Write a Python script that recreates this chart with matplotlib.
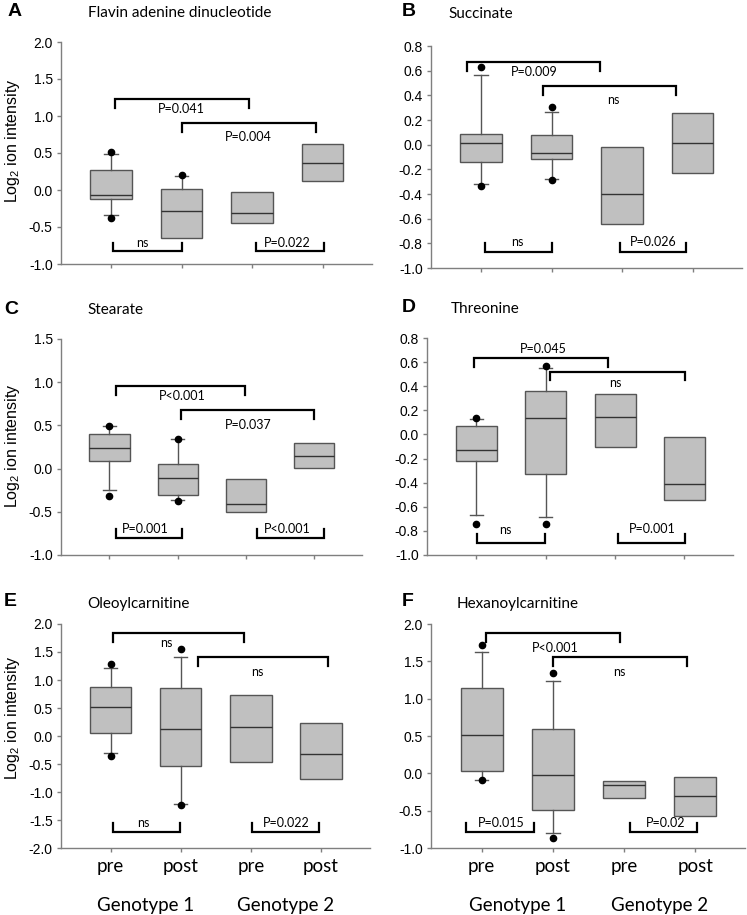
import numpy as np
import matplotlib
matplotlib.use("Agg")
import matplotlib.pyplot as plt
import matplotlib.transforms as mtransforms

plt.rcParams['font.family'] = ['Liberation Sans', 'DejaVu Sans']
plt.rcParams['mathtext.fontset'] = 'custom'
plt.rcParams['mathtext.rm'] = 'Liberation Sans'
plt.rcParams['mathtext.it'] = 'Liberation Sans'
LABEL_FONT = ['Lato', 'DejaVu Sans']

groups = ['pre', 'post', 'pre', 'post']
genotypes = ['Genotype 1', 'Genotype 2']
positions = [1, 2, 3, 4]

# ---- panel data ----
# A: Flavin adenine dinucleotide
a_q1 = [-0.12, -0.65, -0.45, 0.12]
a_med = [-0.07, -0.28, -0.31, 0.36]
a_q3 = [0.27, 0.02, -0.03, 0.62]
a_lo = [-0.34, None, None, None]
a_hi = [0.49, 0.19, None, None]
a_dots = [[0.51, -0.38], [0.20], [], []]
a_top = [(1.05, 2.95, 1.23, 'P=0.041', 2.0, 1.09), (2.0, 3.9, 0.90, 'P=0.004', 2.95, 0.71)]
a_bot = [(1.03, 2.0, -0.83, 'ns', 1.45, -0.71), (3.06, 4.02, -0.83, 'P=0.022', 3.5, -0.71)]

# B: Succinate
b_q1 = [-0.14, -0.12, -0.64, -0.23]
b_med = [0.015, -0.07, -0.40, 0.01]
b_q3 = [0.09, 0.08, -0.02, 0.26]
b_lo = [-0.32, -0.28, None, None]
b_hi = [0.565, 0.265, None, None]
b_dots = [[0.63, -0.335], [0.305, -0.287], [], []]
b_top = [(0.8, 2.68, 0.673, 'P=0.009', 1.76, 0.589), (1.88, 3.77, 0.473, 'ns', 2.88, 0.36)]
b_bot = [(1.06, 2.0, -0.87, 'ns', 1.52, -0.79), (2.97, 3.91, -0.87, 'P=0.026', 3.44, -0.79)]

# C: Stearate
c_q1 = [0.084, -0.31, -0.50, 0.007]
c_med = [0.242, -0.113, -0.406, 0.146]
c_q3 = [0.40, 0.049, -0.117, 0.30]
c_lo = [-0.252, -0.36, None, None]
c_hi = [0.489, 0.339, None, None]
c_dots = [[0.497, -0.313], [0.343, -0.371], [], []]
c_top = [(1.09, 2.98, 0.956, 'P<0.001', 2.07, 0.836), (2.05, 4.0, 0.678, 'P=0.037', 3.04, 0.505)]
c_bot = [(1.09, 2.06, -0.803, 'P=0.001', 1.53, -0.70), (3.16, 4.14, -0.803, 'P<0.001', 3.6, -0.70)]

# D: Threonine
d_q1 = [-0.224, -0.324, -0.103, -0.547]
d_med = [-0.128, 0.137, 0.143, -0.409]
d_q3 = [0.068, 0.364, 0.336, -0.020]
d_lo = [-0.666, -0.682, None, None]
d_hi = [0.129, 0.549, None, None]
d_dots = [[0.137, -0.74], [0.571, -0.74], [], []]
d_top = [(0.97, 2.9, 0.634, 'P=0.045', 1.96, 0.706), (2.06, 4.01, 0.521, 'ns', 3.01, 0.43)]
d_bot = [(1.01, 1.99, -0.898, 'ns', 1.42, -0.79), (3.04, 4.01, -0.898, 'P=0.001', 3.54, -0.787)]

# E: Oleoylcarnitine
e_q1 = [0.045, -0.532, -0.472, -0.764]
e_med = [0.526, 0.122, 0.169, -0.330]
e_q3 = [0.883, 0.859, 0.740, 0.235]
e_lo = [-0.312, -1.221, None, None]
e_hi = [1.221, 1.418, None, None]
e_dots = [[1.281, -0.354], [1.56, -1.233], [], []]
e_top = [(1.03, 2.9, 1.845, 'ns', 1.8, 1.655), (2.25, 4.1, 1.418, 'ns', 3.09, 1.138)]
e_bot = [(1.03, 1.99, -1.72, 'ns', 1.47, -1.56), (3.02, 3.97, -1.72, 'P=0.022', 3.5, -1.56)]

# F: Hexanoylcarnitine
f_q1 = [0.034, -0.487, -0.331, -0.576]
f_med = [0.52, -0.024, -0.162, -0.309]
f_q3 = [1.14, 0.592, -0.108, -0.046]
f_lo = [-0.095, -0.80, None, None]
f_hi = [1.621, 1.243, None, None]
f_dots = [[1.72, -0.09], [1.345, -0.862], [], []]
f_top = [(1.06, 2.95, 1.885, 'P<0.001', 2.03, 1.684), (2.0, 3.88, 1.559, 'ns', 2.93, 1.354)]
f_bot = [(0.78, 1.73, -0.79, 'P=0.015', 1.27, -0.67), (3.08, 4.02, -0.79, 'P=0.02', 3.58, -0.67)]

panels = [
    ('A', 'Flavin adenine dinucleotide', a_q1, a_med, a_q3, a_lo, a_hi, a_dots, a_top, a_bot, (-1.0, 2.0), 0.5),
    ('B', 'Succinate', b_q1, b_med, b_q3, b_lo, b_hi, b_dots, b_top, b_bot, (-1.0, 0.8), 0.2),
    ('C', 'Stearate', c_q1, c_med, c_q3, c_lo, c_hi, c_dots, c_top, c_bot, (-1.0, 1.5), 0.5),
    ('D', 'Threonine', d_q1, d_med, d_q3, d_lo, d_hi, d_dots, d_top, d_bot, (-1.0, 0.8), 0.2),
    ('E', 'Oleoylcarnitine', e_q1, e_med, e_q3, e_lo, e_hi, e_dots, e_top, e_bot, (-2.0, 2.0), 0.5),
    ('F', 'Hexanoylcarnitine', f_q1, f_med, f_q3, f_lo, f_hi, f_dots, f_top, f_bot, (-1.0, 2.0), 0.5),
]

W, H = 747, 915
fig = plt.figure(figsize=(W / 100, H / 100), dpi=100)

# axes boxes in pixels: left, right, top, bottom
boxes_px = [(61, 372, 42, 264), (431, 742, 46, 268),
            (61, 362, 339, 555), (427, 733, 338, 555),
            (61, 370, 624, 848), (431, 745, 624, 848)]
letter_px = [(8, 12), (402, 12), (4, 310), (402, 308), (4, 602), (402, 602)]
title_px = [(88, 13), (448, 14), (87, 310), (451, 309), (87, 604), (457, 604)]
ylabel_px = [(13, 141), None, (13, 446), None, (13, 718), None]

gray = '#7f7f7f'
for i, (letter, title, q1, med, q3, lo, hi, dots, top, bot, ylim, step) in enumerate(panels):
    l, r, t, b = boxes_px[i]
    ax = fig.add_axes([l / W, 1 - b / H, (r - l) / W, (b - t) / H])

    stats = []
    for j in range(4):
        stats.append(dict(med=med[j], q1=q1[j], q3=q3[j],
                          whislo=lo[j] if lo[j] is not None else q1[j],
                          whishi=hi[j] if hi[j] is not None else q3[j],
                          fliers=np.array(dots[j])))
    art = ax.bxp(stats, positions=positions, widths=0.59, capwidths=0.19,
                 patch_artist=True, manage_ticks=False,
                 boxprops=dict(facecolor='#c0c0c0', edgecolor='#555555', linewidth=1.0),
                 medianprops=dict(color='#333333', linewidth=1.0),
                 whiskerprops=dict(color='#555555', linewidth=1.0),
                 capprops=dict(color='#555555', linewidth=1.0),
                 flierprops=dict(marker='o', markerfacecolor='black', markeredgecolor='black',
                                 markersize=4.5, linestyle='none'))
    # no whisker drawn where the figure shows none
    for j in range(4):
        if lo[j] is None:
            art['caps'][2 * j].set_visible(False)
            art['whiskers'][2 * j].set_visible(False)
        if hi[j] is None:
            art['caps'][2 * j + 1].set_visible(False)
            art['whiskers'][2 * j + 1].set_visible(False)

    ticks = np.round(np.arange(ylim[0], ylim[1] + step / 2, step), 6) + 0.0
    ax.set_xlim(0.29, 4.7)
    ax.set_ylim(*ylim)
    ax.set_yticks(ticks)
    ax.set_yticklabels(['%.1f' % (v + 0.0) if abs(v) > 1e-9 else '0.0' for v in ticks])
    ax.set_xticks(positions)
    for s in ['top', 'right']:
        ax.spines[s].set_visible(False)
    for s in ['left', 'bottom']:
        ax.spines[s].set_color(gray)
        ax.spines[s].set_linewidth(1.0)
    ax.tick_params(axis='both', direction='out', length=3, width=1, color=gray,
                   labelsize=10, pad=3)

    if i >= 4:
        ax.set_xticklabels(groups, fontsize=13.5, family=LABEL_FONT)
        ax.tick_params(axis='x', pad=4)
        tr = mtransforms.blended_transform_factory(ax.transData, fig.transFigure)
        ax.text(1.5, 1 - 905 / H, genotypes[0], transform=tr, ha='center', va='center',
                fontsize=13.5, family=LABEL_FONT)
        ax.text(3.5, 1 - 905 / H, genotypes[1], transform=tr, ha='center', va='center',
                fontsize=13.5, family=LABEL_FONT)
    else:
        ax.set_xticklabels([])

    leg = 0.04 * (ylim[1] - ylim[0])
    for x1, x2, y, txt, tx, ty in top:
        ax.plot([x1, x1, x2, x2], [y - leg, y, y, y - leg], color='black', lw=1.6,
                solid_joinstyle='miter', clip_on=False)
        ax.text(tx, ty, txt, ha='center', va='center', fontsize=9, family=LABEL_FONT)
    for x1, x2, y, txt, tx, ty in bot:
        ax.plot([x1, x1, x2, x2], [y + leg, y, y, y + leg], color='black', lw=1.6,
                solid_joinstyle='miter', clip_on=False)
        ax.text(tx, ty, txt, ha='center', va='center', fontsize=9, family=LABEL_FONT)

    lx, ly = letter_px[i]
    fig.text(lx / W, 1 - ly / H, letter, fontsize=14, fontweight='bold', ha='left', va='center')
    tx, ty = title_px[i]
    fig.text(tx / W, 1 - ty / H, title, fontsize=11, ha='left', va='center', family=LABEL_FONT)
    if ylabel_px[i] is not None:
        yx, yy = ylabel_px[i]
        fig.text(yx / W, 1 - yy / H, r'Log$_{\mathregular{2}}$ ion intensity', rotation=90,
                 fontsize=11.5, ha='center', va='center')

fig.savefig('out.png', dpi=100)
